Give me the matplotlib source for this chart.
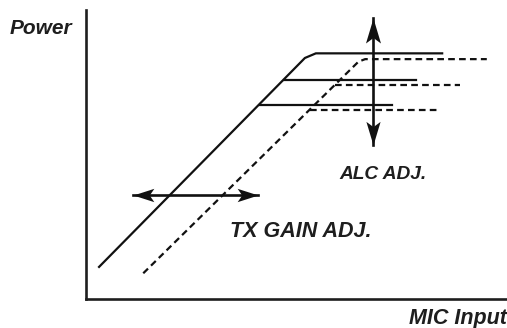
import matplotlib
matplotlib.use("Agg")
import matplotlib.pyplot as plt
from matplotlib.path import Path
from matplotlib.markers import MarkerStyle
from matplotlib.transforms import Affine2D

# curves in arbitrary units (x: MIC input, y: power)
solid_x = [3.1, 52.0, 54.6, 84.6]
solid_y = [11.1, 83.4, 85.0, 85.0]
solid_mid_x = [47.0, 78.4]
solid_mid_y = [75.8, 75.8]
solid_low_x = [41.3, 72.7]
solid_low_y = [67.2, 67.2]

dash_x = [13.6, 64.7, 66.3, 95.2]
dash_y = [8.9, 82.1, 83.0, 83.0]
dash_mid_x = [59.2, 88.8]
dash_mid_y = [73.9, 73.9]
dash_low_x = [53.3, 83.3]
dash_low_y = [65.4, 65.4]

# adjustment arrows
alc_x = [68.2, 68.2]
alc_y = [53.3, 97.2]
gain_x = [11.2, 40.9]
gain_y = [36.0, 36.0]

W, H = 507, 328
fig = plt.figure(figsize=(W / 100, H / 100), dpi=100)
ax = fig.add_axes([86 / W, (H - 299) / H, (W - 86) / W, (299 - 10) / H])
ax.set_xlim(0, 100)
ax.set_ylim(0, 100)
ax.set_xticks([])
ax.set_yticks([])
for s in ["top", "right"]:
    ax.spines[s].set_visible(False)
for s in ["left", "bottom"]:
    ax.spines[s].set_linewidth(1.9)
    ax.spines[s].set_color("#1e1e1e")

col = "#111111"
lw = 1.6
ax.plot(solid_x, solid_y, color=col, lw=lw, solid_joinstyle="miter")
ax.plot(solid_mid_x, solid_mid_y, color=col, lw=lw)
ax.plot(solid_low_x, solid_low_y, color=col, lw=lw)
dash = (0, (3.0, 1.9))
ax.plot(dash_x, dash_y, color=col, lw=lw, linestyle=dash)
ax.plot(dash_mid_x, dash_mid_y, color=col, lw=lw, linestyle=dash)
ax.plot(dash_low_x, dash_low_y, color=col, lw=lw, linestyle=dash)


def head(angle, half_w):
    # stealth-like arrow head, tip at the origin, pointing up before rotation
    verts = [(0, 0), (half_w, -1), (0, -0.78), (-half_w, -1), (0, 0)]
    codes = [Path.MOVETO, Path.LINETO, Path.LINETO, Path.LINETO, Path.CLOSEPOLY]
    return MarkerStyle(Path(verts, codes), transform=Affine2D().rotate_deg(angle))


ax.plot(alc_x, alc_y, color=col, lw=1.9)
ax.plot(alc_x[1], alc_y[1], marker=head(0, 0.3), ms=36, color=col, mew=0)
ax.plot(alc_x[0], alc_y[0], marker=head(180, 0.3), ms=34, color=col, mew=0)
ax.plot(gain_x, gain_y, color=col, lw=1.9)
ax.plot(gain_x[0], gain_y[0], marker=head(90, 0.32), ms=30, color=col, mew=0)
ax.plot(gain_x[1], gain_y[1], marker=head(-90, 0.32), ms=30, color=col, mew=0)

fnt = dict(family="Liberation Sans", weight="bold", style="italic", color="#1e1e1e")
ax.text(60.2, 41.5, "ALC ADJ.", fontsize=13.8, va="baseline", ha="left", **fnt)
ax.text(34.2, 21.6, "TX GAIN ADJ.", fontsize=15.5, va="baseline", ha="left", **fnt)
fig.text(10 / W, 1 - 34.3 / H, "Power", fontsize=15, va="baseline", ha="left", **fnt)
fig.text(0.999, 3.7 / H, "MIC Input", fontsize=15.5, va="baseline", ha="right", **fnt)

fig.savefig("out.png", dpi=100)
